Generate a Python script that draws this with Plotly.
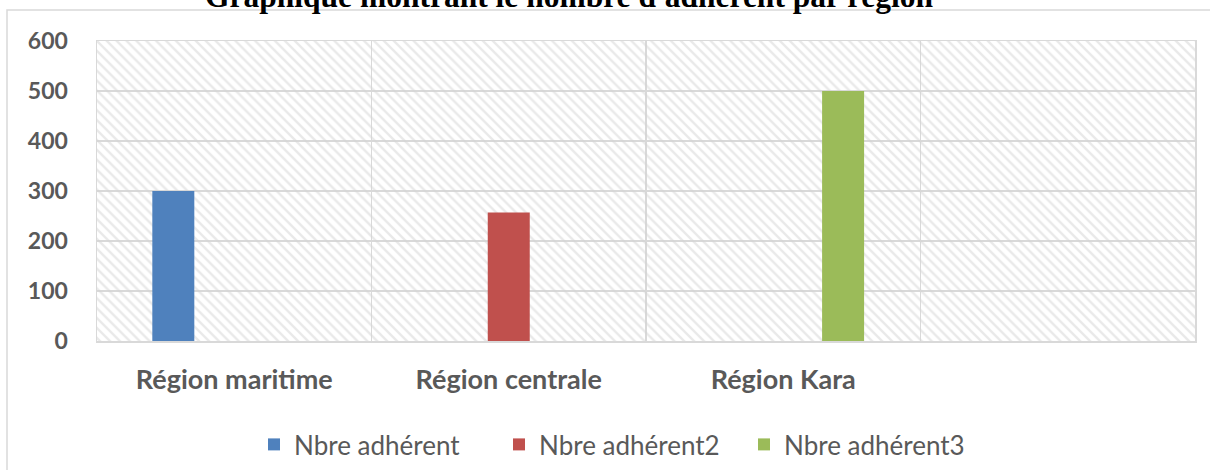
import plotly.graph_objects as go

# ---- data ----
categories = ["Région maritime", "Région centrale", "Région Kara", " "]
series_names = ["Nbre adhérent", "Nbre adhérent2", "Nbre adhérent3"]
nbre_adherent = [300, None, None, None]
nbre_adherent2 = [None, 257, None, None]
nbre_adherent3 = [None, None, 500, None]
y_ticks = [0, 100, 200, 300, 400, 500, 600]
title_text = "Graphique montrant le nombre d'adhérent par région"

# ---- style ----
colors = ["#4f81bd", "#c0504d", "#9bbb59"]
YMAX = 600
BAR_W = 0.153
centers = [-0.222, 0.0, 0.218]
GRID = "#d9d9d9"
TXT = "#595959"
FONT = "Lato, 'Liberation Sans', sans-serif"

fig = go.Figure()

# hatched plot-area background (one full-width band per category)
fig.add_trace(go.Bar(
    x=categories, y=[YMAX] * len(categories), width=1.0,
    marker=dict(color="rgba(0,0,0,0)", line=dict(width=0),
                pattern=dict(shape="\\", fgcolor="#d4d4d4", bgcolor="rgba(0,0,0,0)",
                             size=7, solidity=0.35)),
    showlegend=False, hoverinfo="skip"))

for name, vals, col, c in zip(series_names,
                              [nbre_adherent, nbre_adherent2, nbre_adherent3],
                              colors, centers):
    fig.add_trace(go.Bar(
        x=categories, y=vals, name=name, width=BAR_W, offset=c - BAR_W / 2,
        marker=dict(color=col, line=dict(width=0))))

L, R, T, B = 97, 15, 41, 129
W, H = 1210, 470
pw = W - L - R
ph = H - T - B

fig.update_layout(
    width=W, height=H,
    barmode="overlay",
    paper_bgcolor="white", plot_bgcolor="white",
    margin=dict(l=L, r=R, t=T, b=B, autoexpand=False),
    font=dict(family=FONT, color=TXT),
    showlegend=True,
    legend=dict(orientation="h", x=(254 - L) / pw, xanchor="left",
                y=(ph - (421 - T)) / ph, yanchor="top",
                font=dict(family=FONT, size=26, color=TXT),
                entrywidth=200, bgcolor="rgba(0,0,0,0)",
                traceorder="normal"),
    xaxis=dict(type="category", categoryorder="array", categoryarray=categories,
               range=[-0.5, 3.5], tickson="boundaries", ticks="",
               showgrid=True, gridcolor=GRID, gridwidth=1.3,
               showline=True, linecolor=GRID, linewidth=1.5, mirror=True,
               tickfont=dict(family=FONT, size=27, color=TXT, weight="bold"),
               ticklabelstandoff=14, fixedrange=True),
    yaxis=dict(range=[0, YMAX], tickvals=y_ticks, ticks="",
               showgrid=True, gridcolor=GRID, gridwidth=1.3, zeroline=False,
               showline=True, linecolor=GRID, linewidth=1.5, mirror=True,
               tickfont=dict(family=FONT, size=23, color=TXT, weight="bold"),
               ticklabelstandoff=23, fixedrange=True),
    shapes=[dict(type="rect", xref="paper", yref="paper",
                 x0=(7 - L) / pw, x1=1.2, y0=-1.0, y1=(H - B - 10) / ph,
                 line=dict(color=GRID, width=1.5), fillcolor="rgba(0,0,0,0)",
                 layer="below")],
    annotations=[dict(text="<b>" + title_text + "</b>", xref="paper", yref="paper",
                      x=(569 - L) / pw, xanchor="center",
                      y=(H - B - (-4)) / ph, yanchor="middle",
                      showarrow=False,
                      font=dict(family="'Liberation Serif', 'Times New Roman', serif",
                                size=31.5, color="black"))],
)

fig.write_html("out.html", config={"displayModeBar": False, "staticPlot": True},
               post_script="document.body.style.margin='0';document.body.style.padding='0';")
